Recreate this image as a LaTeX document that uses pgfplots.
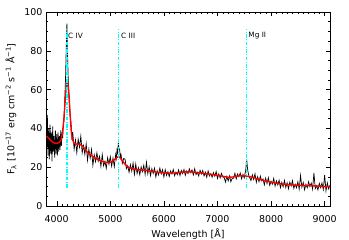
\documentclass[border=0pt]{standalone}
\usepackage{fontspec}
\setmainfont{DejaVu Sans}
\usepackage{pgfplots}
\pgfplotsset{compat=1.18}
\definecolor{lcyan}{RGB}{0,255,255}
\definecolor{fitred}{RGB}{255,0,0}
\begin{document}
\begin{tikzpicture}
\begin{axis}[
  scale only axis, width=284bp, height=194bp,
  xmin=3800, xmax=9100, ymin=0, ymax=100,
  xtick={4000,5000,6000,7000,8000,9000}, minor x tick num=9,
  ytick={0,20,40,60,80,100}, minor y tick num=3,
  tick align=inside, major tick length=4.5bp, minor tick length=2.2bp,
  tick style={black, line width=0.4bp},
  axis line style={line width=0.5bp},
  ticklabel style={font=\fontsize{9.5}{11}\selectfont},
  xticklabel style={yshift=-6bp},
  /pgf/number format/assume math mode=true,
  /pgf/number format/1000 sep={},
  xlabel={Wavelength [Å]},
  ylabel={F\textsubscript{λ} [10\textsuperscript{−17} erg cm\textsuperscript{−2} s\textsuperscript{−1} Å\textsuperscript{−1}]},
  every axis x label/.style={at={(axis description cs:0.5,-0.144)}, anchor=center, font=\fontsize{9.5}{11}\selectfont},
  every axis y label/.style={at={(axis description cs:-0.123,0.5)}, anchor=center, rotate=90, font=\fontsize{9.5}{11}\selectfont},
  clip=true,
]
% observed spectrum
\addplot[black, line width=0.7bp] coordinates {
(3800,44) (3812,30) (3825,47) (3837,26) (3850,40) (3862,24) (3875,42) (3887,27)
(3900,38) (3912,23) (3925,41) (3937,28) (3950,36) (3962,25) (3975,39) (3987,27)
(4000,37) (4012,26) (4025,38) (4037,28) (4050,36) (4062,29) (4075,39) (4087,31)
(4100,38) (4112,35) (4125,43) (4137,44) (4150,55) (4165,66) (4180,84) (4190,94)
(4200,80) (4215,65) (4230,56) (4250,47) (4262,44) (4275,40) (4287,34)
(4300,38.0) (4325,29.3) (4350,34.0) (4375,27.5) (4400,34.5) (4425,30.3) (4450,36.0)
(4475,27.4) (4500,31.1) (4525,26.6) (4550,32.0) (4575,23.6) (4600,29.3) (4625,24.7)
(4650,29.2) (4675,21.0) (4700,26.4)
(4725,22.9) (4750,27.4) (4775,23.1) (4800,25.6) (4825,20.4) (4850,26.5) (4875,20.7)
(4900,23.0) (4925,19.4) (4950,24.9) (4975,21.5) (5000,25.4) (5025,20.5) (5050,24.7)
(5075,20.3)
(5100,26.5) (5112,24.5) (5125,29) (5137,27.5) (5150,32.5) (5162,29.5) (5175,29)
(5187,25) (5200,26.5) (5225,22) (5250,24.5)
(5275,24.2) (5300,19.3) (5325,20.8) (5350,17.4) (5375,21.3) (5400,18.0) (5425,22.1)
(5450,16.3) (5475,21.6) (5500,16.7)
(5525,19.7) (5550,16.1) (5575,20.2) (5600,17.7) (5625,21.0) (5650,16.3) (5675,22.5)
(5700,16.6) (5725,20.2) (5750,15.7) (5775,19.2) (5800,16.8) (5825,19.5) (5850,15.0)
(5875,18.2) (5900,16.0) (5925,19.5) (5950,16.6) (5975,18.7) (6000,15.0)
(6025,18.7) (6050,15.8) (6075,17.7) (6100,15.2) (6125,18.1) (6150,16.5) (6175,18.8)
(6200,15.6) (6225,17.5) (6250,16.1) (6275,18.6) (6300,15.7) (6325,18.3) (6350,16.7)
(6375,18.8) (6400,15.8) (6425,18.1) (6450,16.7) (6475,19.2) (6500,17.2) (6525,18.6)
(6550,16.0) (6575,19.2) (6600,16.2) (6625,17.4) (6650,15.5) (6675,18.4) (6700,16.5)
(6725,18.3) (6750,15.5) (6775,17.4) (6800,14.8) (6825,18.1) (6850,15.5) (6875,16.7)
(6900,14.8) (6925,17.2) (6950,15.3) (6975,17.7) (7000,14.2) (7025,16.6) (7050,14.5)
(7075,16.8) (7100,14.9) (7125,14.7) (7150,12.3) (7175,15.2) (7200,12.9) (7225,15.5)
(7250,12.5) (7275,14.3) (7300,14.3) (7325,16.9) (7350,14.0) (7375,16.5) (7400,15.1)
(7425,17.0) (7450,14.0) (7475,16.3) (7500,14.5)
(7515,16.8) (7528,18.5) (7538,22.5) (7548,23.2) (7562,19) (7582,15.9) (7600,14.6)
(7625,13.1) (7650,16.1) (7675,13.7) (7700,16.6) (7725,12.2) (7750,15.1) (7775,12.5)
(7800,15.4) (7825,13.0) (7850,13.9) (7875,10.9) (7900,14.4) (7925,11.6) (7950,14.6)
(7975,10.7) (8000,12.7) (8025,11.3) (8050,14.2) (8075,10.3) (8100,13.0) (8125,10.9)
(8150,13.3) (8175,9.4) (8200,12.2) (8225,9.9) (8250,13.2) (8275,9.6) (8300,12.0)
(8325,8.9) (8350,12.3) (8375,10.3) (8400,13.1) (8425,9.1) (8450,11.2) (8475,9.4)
(8500,12.5) (8525,8.7) (8550,15.7) (8575,9.7) (8600,12.1) (8625,8.4) (8650,11.2)
(8675,9.4) (8700,12.5) (8725,10.0) (8750,11.8) (8775,8.7) (8800,17.0) (8825,9.0)
(8850,10.5) (8875,8.3) (8900,11.7) (8925,9.5) (8950,11.9) (8975,8.5) (9000,16.0)
(9025,7.8) (9050,11.9) (9075,8.8) (9100,10.8)
};
% fit
\addplot[fitred, line width=1.4bp] coordinates {
(3800,36) (3850,35) (3900,33.5) (3950,32.5) (4000,32.3) (4050,32.8) (4080,34)
(4100,36.5) (4125,42) (4150,51) (4170,59) (4190,63.5) (4210,63) (4230,57) (4250,47)
(4270,39) (4290,34.5) (4320,32.5) (4360,32) (4400,31.8) (4450,31.5) (4480,31)
(4520,29.5) (4560,28) (4600,27) (4650,26) (4700,25) (4750,24.2) (4800,23.5)
(4850,23) (4900,22.6) (4950,22.4) (5000,22.6) (5050,23.3) (5100,24.5) (5140,25.3)
(5170,25.2) (5200,24.3) (5250,22.4) (5300,20.8) (5350,19.8) (5400,19.2) (5500,18.8)
(5600,18.5) (5700,18.2) (5800,17.8) (5900,17.3) (6000,17.1) (6100,17) (6200,17)
(6300,17.3) (6400,17.6) (6500,17.6) (6600,17.3) (6700,17) (6800,16.6) (6900,16.2)
(7000,15.8) (7100,15.3) (7200,14.8) (7300,15) (7400,15.6) (7500,15.6) (7600,15.1)
(7700,14.4) (7800,13.6) (7900,12.9) (8000,12.3) (8100,11.7) (8200,11.3) (8300,11.1)
(8400,10.9) (8500,10.7) (8600,10.6) (8700,10.5) (8800,10.4) (8900,10.2) (9000,10)
(9100,9.9)
};
% line markers
\addplot[lcyan, line width=1.3bp, dash pattern=on 3.5bp off 1.5bp on 1bp off 1.5bp] coordinates {(4190,9.5) (4190,91)};
\addplot[lcyan, line width=1.3bp, dash pattern=on 3.5bp off 1.5bp on 1bp off 1.5bp] coordinates {(5150,9.5) (5150,91)};
\addplot[lcyan, line width=1.3bp, dash pattern=on 3.5bp off 1.5bp on 1bp off 1.5bp] coordinates {(7545,9.5) (7545,91)};
\node[anchor=west, inner sep=0pt, font=\fontsize{7.3}{8}\selectfont] at (axis cs:4210,87.8) {C\,\,IV};
\node[anchor=west, inner sep=0pt, font=\fontsize{7.3}{8}\selectfont] at (axis cs:5200,87.8) {C\,\,III};
\node[anchor=west, inner sep=0pt, font=\fontsize{7.3}{8}\selectfont] at (axis cs:7575,87.8) {Mg\,\,II};
\path (rel axis cs:0,0) coordinate (ll) (rel axis cs:1,1) coordinate (ur);
\end{axis}
\pgfresetboundingbox
\path[use as bounding box] ([xshift=-46bp,yshift=-34bp]ll) rectangle ([xshift=19bp,yshift=12bp]ur);
\end{tikzpicture}
\end{document}
